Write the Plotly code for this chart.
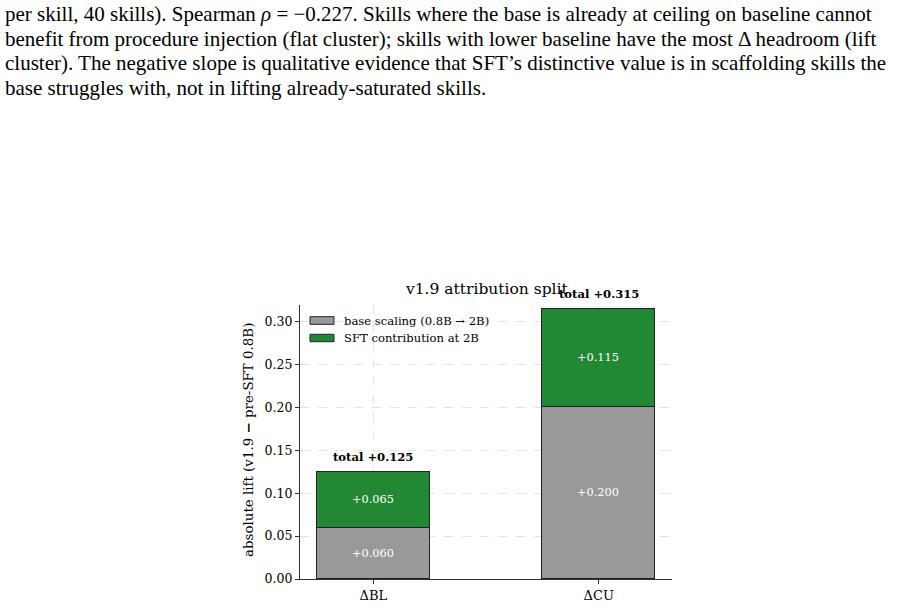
import plotly.graph_objects as go

# ---- data ----
categories = ["ΔBL", "ΔCU"]
base_scaling = [0.060, 0.200]
sft_contrib = [0.065, 0.115]
series_names = ["base scaling (0.8B → 2B)", "SFT contribution at 2B"]
series_colors = ["#999999", "#228833"]
y_ticks = [0.00, 0.05, 0.10, 0.15, 0.20, 0.25, 0.30]

paragraph_lines = [
    "per skill, 40 skills). Spearman <i>ρ</i> = −0.227. Skills where the base is already at ceiling on baseline cannot",
    "benefit from procedure injection (flat cluster); skills with lower baseline have the most Δ headroom (lift",
    "cluster). The negative slope is qualitative evidence that SFT’s distinctive value is in scaffolding skills the",
    "base struggles with, not in lifting already-saturated skills.",
]

totals = [a + b for a, b in zip(base_scaling, sft_contrib)]

W, H = 914, 606
SERIF = "DejaVu Serif"

def px_x(p):
    return p / W

def px_y(p):
    return (H - p) / H

fig = go.Figure()
for vals, name, col in zip([base_scaling, sft_contrib], series_names, series_colors):
    fig.add_trace(go.Bar(
        x=categories, y=vals, name=name,
        marker=dict(color=col, line=dict(color="#222222", width=1)),
        width=0.5,
        text=[f"+{v:.3f}" for v in vals], textposition="inside",
        insidetextanchor="middle", textangle=0,
        textfont=dict(color="white", size=11.3, family=SERIF),
        showlegend=False,
    ))

annotations = []
for c, t in zip(categories, totals):
    annotations.append(dict(
        x=c, y=t, xref="x", yref="y", text=f"<b>total +{t:.3f}</b>",
        showarrow=False, yanchor="bottom", yshift=6,
        font=dict(size=11.6, family=SERIF, color="black"),
    ))

# title
annotations.append(dict(
    x=px_x(487), y=px_y(289), xref="paper", yref="paper",
    text="v1.9 attribution split", showarrow=False,
    xanchor="center", yanchor="middle",
    font=dict(size=15.5, family=SERIF, color="black"),
))
# y axis title
annotations.append(dict(
    x=px_x(248), y=px_y(440), xref="paper", yref="paper",
    text="absolute lift (v1.9 <b>−</b> pre-SFT 0.8B)", showarrow=False,
    textangle=-90, xanchor="center", yanchor="middle",
    font=dict(size=13.4, family=SERIF, color="black"),
))

# custom legend (matplotlib style patches)
shapes = []
leg_rows = [(316.7, 324.3, 320.5), (334.3, 341.7, 338.0)]
for (y0, y1, yc), name, col in zip(leg_rows, series_names, series_colors):
    shapes.append(dict(
        type="rect", xref="paper", yref="paper",
        x0=px_x(310), x1=px_x(334), y0=px_y(y1), y1=px_y(y0),
        fillcolor=col, line=dict(color="#222222", width=1),
    ))
    annotations.append(dict(
        x=px_x(342), y=px_y(yc), xref="paper", yref="paper",
        text=name, showarrow=False, xanchor="left", yanchor="middle",
        font=dict(size=11.6, family=SERIF, color="black"),
    ))

# paragraph
line_y = [14, 38.5, 63, 87.5]
for ln, yy in zip(paragraph_lines, line_y):
    annotations.append(dict(
        x=px_x(3), y=px_y(yy), xref="paper", yref="paper",
        text=ln, showarrow=False, xanchor="left", yanchor="middle",
        font=dict(size=21, family="Liberation Serif", color="black"),
    ))

axis_common = dict(
    showline=True, linecolor="#333333", linewidth=1.2,
    ticks="outside", ticklen=4, tickcolor="#333333",
    showgrid=True, gridcolor="#e4e4e4", griddash="dash", gridwidth=0.8,
    automargin=False, fixedrange=True, zeroline=False,
)

fig.update_layout(
    width=W, height=H,
    margin=dict(l=0, r=0, t=0, b=0, pad=0),
    paper_bgcolor="white", plot_bgcolor="white",
    barmode="stack", bargap=0,
    font=dict(family=SERIF, color="black"),
    showlegend=False,
    annotations=annotations,
    shapes=shapes,
    xaxis=dict(
        domain=[px_x(300), px_x(672)], range=[-0.325, 1.325],
        tickfont=dict(size=13, family=SERIF, color="black"),
        anchor="y", **axis_common,
    ),
    yaxis=dict(
        domain=[px_y(579), px_y(305)], range=[0, 0.3195],
        tickvals=y_ticks, ticktext=[f"{v:.2f}" for v in y_ticks],
        tickfont=dict(size=12.5, family=SERIF, color="black"),
        anchor="x", **axis_common,
    ),
)

fig.write_html(
    "out.html",
    config={"displayModeBar": False},
    post_script="document.body.style.margin='0';document.body.style.overflow='hidden';",
)
